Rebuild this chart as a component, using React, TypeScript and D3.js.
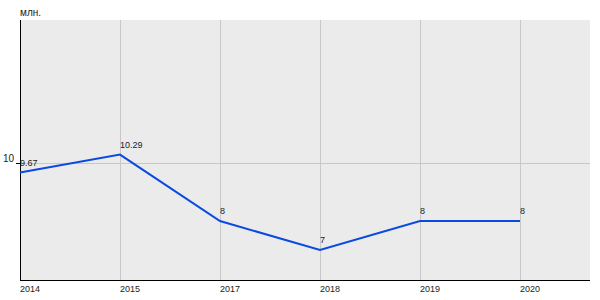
import React from "react";
import * as d3 from "d3";

const categories = ["2014", "2015", "2017", "2018", "2019", "2020"];
const values = [9.67, 10.29, 8, 7, 8, 8];
const valueLabels = ["9.67", "10.29", "8", "7", "8", "8"];
const yTicks = [10];
const unitLabel = "млн.";

export default function App() {
  const W = 600, H = 300;
  const left = 20, right = 590, top = 20, bottom = 280;
  const x = d3.scaleLinear().domain([0, 1]).range([left, left + 100]);
  const y = d3.scaleLinear().domain([6, 15]).range([279, 18]);
  const line = d3.line<number>().x((_, i) => x(i)).y((d) => y(d));
  const font = "Liberation Sans, Arial, sans-serif";
  const fs = 9;
  return (
    <div style={{ position: "fixed", left: 0, top: 0 }}>
      <svg width={W} height={H} style={{ display: "block", background: "#fff" }}>
        <rect x={left} y={top} width={right - left} height={bottom - top} fill="#ebebeb" />
        {categories.map((c, i) => (
          <line key={c} x1={x(i) + 0.5} x2={x(i) + 0.5} y1={top} y2={bottom} stroke="#c8c8c8" strokeWidth={1} />
        ))}
        {yTicks.map((t) => (
          <g key={t}>
            <line x1={left} x2={right} y1={Math.round(y(t)) + 0.5} y2={Math.round(y(t)) + 0.5} stroke="#c8c8c8" />
            <line x1={left - 4} x2={left} y1={Math.round(y(t)) + 0.5} y2={Math.round(y(t)) + 0.5} stroke="#000" />
            <text x={left - 6} y={y(t) - 1} textAnchor="end" fontSize={fs + 1} fontFamily={font} fill="#222">{t}</text>
          </g>
        ))}
        <line x1={left + 0.5} x2={left + 0.5} y1={top} y2={bottom} stroke="#000" />
        <line x1={left} x2={right} y1={bottom + 0.5} y2={bottom + 0.5} stroke="#000" />
        <path d={line(values) || ""} fill="none" stroke="#0a4ae0" strokeWidth={2} />
        {values.map((v, i) => (
          <text key={i} x={x(i)} y={y(v) - 7} fontSize={fs} fontFamily={font} fill="#222">{valueLabels[i]}</text>
        ))}
        {categories.map((c, i) => (
          <text key={c} x={x(i)} y={bottom + 12} fontSize={fs} fontFamily={font} fill="#222">{c}</text>
        ))}
        <text x={left} y={16} fontSize={10} fontFamily={font} fill="#222">{unitLabel}</text>
      </svg>
    </div>
  );
}
